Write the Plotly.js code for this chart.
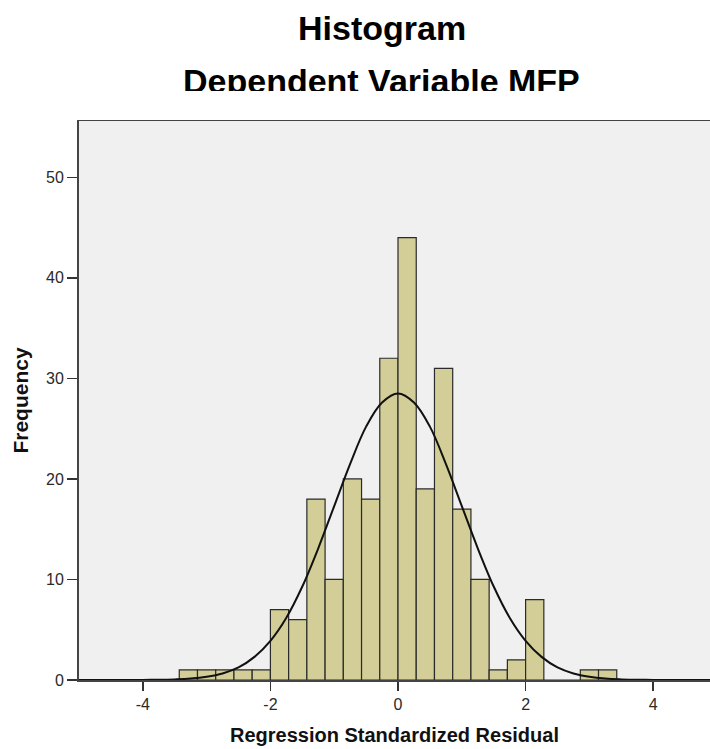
<!DOCTYPE html>
<html>
<head>
<meta charset="utf-8">
<script src="https://cdn.plot.ly/plotly-3.0.1.min.js"></script>
<style>
  html, body { margin: 0; padding: 0; background: #ffffff; }
  #wrap { position: relative; width: 710px; height: 749px; overflow: hidden; }
  #chart { width: 710px; height: 749px; }
  #clip { position: absolute; left: 0; top: 91px; width: 710px; height: 29px; background: #ffffff; pointer-events: none; }
</style>
</head>
<body>
<div id="wrap">
  <div id="chart"></div>
  <div id="clip"></div>
</div>
<script>
// ---- data ----
const binFirstLeftEdge = -24 / 7;
const binWidth = 2 / 7;
const binCounts = [1, 1, 1, 1, 1, 7, 6, 18, 10, 20, 18, 32, 44, 19, 31, 17, 10, 1, 2, 8, 0, 0, 1, 1];

const curveX = [-5, -4.75, -4.5, -4.25, -4, -3.75, -3.5, -3.25, -3, -2.75, -2.5, -2.25, -2, -1.75, -1.5, -1.25, -1, -0.75, -0.5, -0.25,
                0, 0.25, 0.5, 0.75, 1, 1.25, 1.5, 1.75, 2, 2.25, 2.5, 2.75, 3, 3.25, 3.5, 3.75, 4, 4.25, 4.5, 4.75, 5];
const curveY = [0, 0, 0, 0, 0.01, 0.02, 0.06, 0.14, 0.32, 0.65, 1.25, 2.3, 3.9, 6.2, 9.3, 13.1, 17.3, 21.5, 25.2, 27.6,
                28.5, 27.6, 25.2, 21.5, 17.3, 13.1, 9.3, 6.2, 3.9, 2.3, 1.25, 0.65, 0.32, 0.14, 0.06, 0.02, 0.01, 0, 0, 0, 0];

const xTickVals = [-4, -2, 0, 2, 4];
const yTickVals = [0, 10, 20, 30, 40, 50];

const titleLine1 = "Histogram";
const titleLine2 = "Dependent Variable MFP";
const xTitle = "Regression Standardized Residual";
const yTitle = "Frequency";

// bin centres derived from the bin layout
const binCenters = binCounts.map((_, i) => binFirstLeftEdge + binWidth * (i + 0.5));

const FONT = "Liberation Sans, Arial, sans-serif";

const bars = {
  type: "bar",
  x: binCenters,
  y: binCounts,
  width: binWidth,
  marker: { color: "#d3ce97", line: { color: "#2b2b2b", width: 1.2 } },
  hoverinfo: "x+y",
  showlegend: false
};

const curve = {
  type: "scatter",
  mode: "lines",
  x: curveX,
  y: curveY,
  line: { color: "#111111", width: 2, shape: "spline", smoothing: 1 },
  showlegend: false,
  hoverinfo: "skip"
};

const layout = {
  width: 710,
  height: 749,
  margin: { l: 79, r: 0, t: 121, b: 69 },
  paper_bgcolor: "#ffffff",
  plot_bgcolor: "#f0f0f0",
  bargap: 0,
  font: { family: FONT, color: "#222222" },
  xaxis: {
    range: [-5, 4.89],
    tickvals: xTickVals,
    ticktext: xTickVals.map(String),
    ticks: "outside",
    ticklen: 9,
    tickwidth: 1.5,
    tickcolor: "#333333",
    showline: true,
    linecolor: "#444444",
    linewidth: 2,
    mirror: true,
    showgrid: false,
    zeroline: false,
    tickfont: { family: FONT, size: 16, color: "#2a2a2a" },
    title: { text: "<b>" + xTitle + "</b>", font: { family: FONT, size: 20, color: "#111111" }, standoff: 16 }
  },
  yaxis: {
    range: [0, 55.6],
    tickvals: yTickVals,
    ticks: "outside",
    ticklen: 10,
    tickwidth: 1.5,
    tickcolor: "#333333",
    showline: true,
    linecolor: "#444444",
    linewidth: 2,
    mirror: false,
    showgrid: false,
    zeroline: false,
    tickfont: { family: FONT, size: 16, color: "#2a2a2a" },
    title: { text: "<b>" + yTitle + "</b>", font: { family: FONT, size: 21, color: "#111111" }, standoff: 12 }
  },
  annotations: [
    {
      text: "<b>" + titleLine1 + "</b>", xref: "paper", yref: "paper",
      x: 0.48, y: 1.166, xanchor: "center", yanchor: "middle", showarrow: false,
      font: { family: FONT, size: 34, color: "#000000" }
    },
    {
      text: "<b>" + titleLine2 + "</b>", xref: "paper", yref: "paper",
      x: 0.48, y: 1.072, xanchor: "center", yanchor: "middle", showarrow: false,
      font: { family: FONT, size: 34, color: "#000000" }
    }
  ]
};

Plotly.newPlot("chart", [bars, curve], layout, { displayModeBar: false, staticPlot: true });
</script>
</body>
</html>
